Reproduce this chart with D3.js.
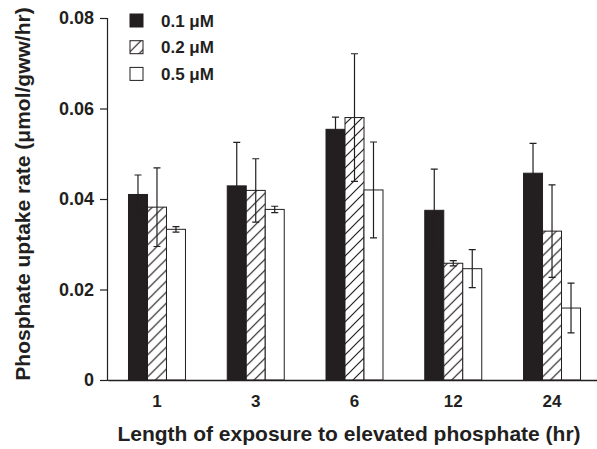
<!DOCTYPE html>
<html>
<head>
<meta charset="utf-8">
<script src="https://cdn.jsdelivr.net/npm/d3@7"></script>
<style>
  body { margin: 0; background: #fff; }
  svg { display: block; font-family: "Liberation Sans", Arial, Helvetica, sans-serif; font-weight: bold; }
</style>
</head>
<body>
<div id="chart"></div>
<script>
// exposure time groups (hr)
const categories = ["1", "3", "6", "12", "24"];
const seriesNames = ["0.1 μM", "0.2 μM", "0.5 μM"];

// mean uptake rate (μmol/gww/hr)
const means01 = [0.0410, 0.0429, 0.0554, 0.0375, 0.0457];
const means02 = [0.0382, 0.0419, 0.0580, 0.0258, 0.0329];
const means05 = [0.0333, 0.0377, 0.0420, 0.0246, 0.0159];

// error bar half-lengths
const err01 = [0.0043, 0.0096, 0.0027, 0.0091, 0.0066];
const err02 = [0.0087, 0.0070, 0.0141, 0.0006, 0.0102];
const err05 = [0.0006, 0.0007, 0.0106, 0.0042, 0.0055];

const yTicks = [0, 0.02, 0.04, 0.06, 0.08];

const width = 597, height = 449;
const ink = "#231f20";

const svg = d3.select("#chart").append("svg")
    .attr("width", width)
    .attr("height", height);

// hatch fill for the middle series
const defs = svg.append("defs");
const pat = defs.append("pattern")
    .attr("id", "hatch")
    .attr("patternUnits", "userSpaceOnUse")
    .attr("width", 11)
    .attr("height", 11);
pat.append("rect").attr("width", 11).attr("height", 11).attr("fill", "#fff");
pat.append("path")
    .attr("d", "M-5.5,5.5 L5.5,-5.5 M0,11 L11,0 M5.5,16.5 L16.5,5.5")
    .attr("stroke", ink)
    .attr("stroke-width", 1.2);

const fills = [ink, "url(#hatch)", "#fff"];

// rows of data for each group
const rows = categories.map((c, i) => ({
    cat: c,
    vals: [
        {s: 0, v: means01[i], e: err01[i]},
        {s: 1, v: means02[i], e: err02[i]},
        {s: 2, v: means05[i], e: err05[i]}
    ]
}));

const x0 = d3.scaleBand()
    .domain(categories)
    .range([107.6, 601.4])
    .paddingInner(0.423)
    .paddingOuter(0.2115);

const x1 = d3.scaleBand()
    .domain([0, 1, 2])
    .range([0, x0.bandwidth()]);

const y = d3.scaleLinear()
    .domain([0, 0.08])
    .range([380, 18]);

// y axis
const yAxis = svg.append("g")
    .attr("transform", "translate(107,0)")
    .call(d3.axisLeft(y)
        .tickValues(yTicks)
        .tickSize(7)
        .tickPadding(6)
        .tickFormat(d => d === 0 ? "0" : d3.format(".2f")(d)));
yAxis.select(".domain").attr("stroke", ink).attr("stroke-width", 1.2);
yAxis.selectAll(".tick line").attr("stroke", ink).attr("stroke-width", 1.2);
yAxis.selectAll(".tick text")
    .attr("fill", ink)
    .style("font-size", "18px")
    .style("font-family", "'Liberation Sans', Arial, sans-serif")
    .style("font-weight", "bold");

// bars
const groups = svg.append("g").selectAll("g")
    .data(rows)
    .join("g")
    .attr("transform", d => `translate(${x0(d.cat)},0)`);

groups.selectAll("rect")
    .data(d => d.vals)
    .join("rect")
    .attr("x", d => x1(d.s))
    .attr("y", d => y(d.v))
    .attr("width", x1.bandwidth())
    .attr("height", d => y(0) - y(d.v))
    .attr("fill", d => fills[d.s])
    .attr("stroke", ink)
    .attr("stroke-width", 1);

// error bars on top
const capW = 7;
groups.selectAll("path.err")
    .data(d => d.vals)
    .join("path")
    .attr("class", "err")
    .attr("fill", "none")
    .attr("stroke", ink)
    .attr("stroke-width", 1.2)
    .attr("d", d => {
        const cx = x1(d.s) + x1.bandwidth() / 2;
        const yt = y(d.v + d.e), yb = y(d.v - d.e);
        return `M${cx},${yb}L${cx},${yt}` +
            `M${cx - capW / 2},${yt}L${cx + capW / 2},${yt}` +
            `M${cx - capW / 2},${yb}L${cx + capW / 2},${yb}`;
    });

// x axis
const xAxis = svg.append("g")
    .attr("transform", `translate(0,${y(0)})`)
    .call(d3.axisBottom(x0).tickSize(0).tickPadding(15));
xAxis.select(".domain").attr("stroke", ink).attr("stroke-width", 1.5);
xAxis.selectAll(".tick text")
    .attr("fill", ink)
    .style("font-size", "17px")
    .style("font-family", "'Liberation Sans', Arial, sans-serif")
    .style("font-weight", "bold");

// axis titles
svg.append("text")
    .attr("x", 349)
    .attr("y", 441)
    .attr("text-anchor", "middle")
    .attr("fill", ink)
    .style("font-size", "21px")
    .text("Length of exposure to elevated phosphate (hr)");

svg.append("text")
    .attr("transform", "translate(30,194) rotate(-90)")
    .attr("text-anchor", "middle")
    .attr("fill", ink)
    .style("font-size", "21px")
    .text("Phosphate uptake rate (μmol/gww/hr)");

// legend
const legend = svg.append("g").selectAll("g")
    .data(seriesNames)
    .join("g")
    .attr("transform", (d, i) => `translate(130,${14 + i * 26.7})`);

legend.append("rect")
    .attr("width", 13)
    .attr("height", 13)
    .attr("fill", (d, i) => fills[i])
    .attr("stroke", ink)
    .attr("stroke-width", 1);

legend.append("text")
    .attr("x", 31)
    .attr("y", 12.5)
    .attr("fill", ink)
    .style("font-size", "17px")
    .text(d => d);
</script>
</body>
</html>
